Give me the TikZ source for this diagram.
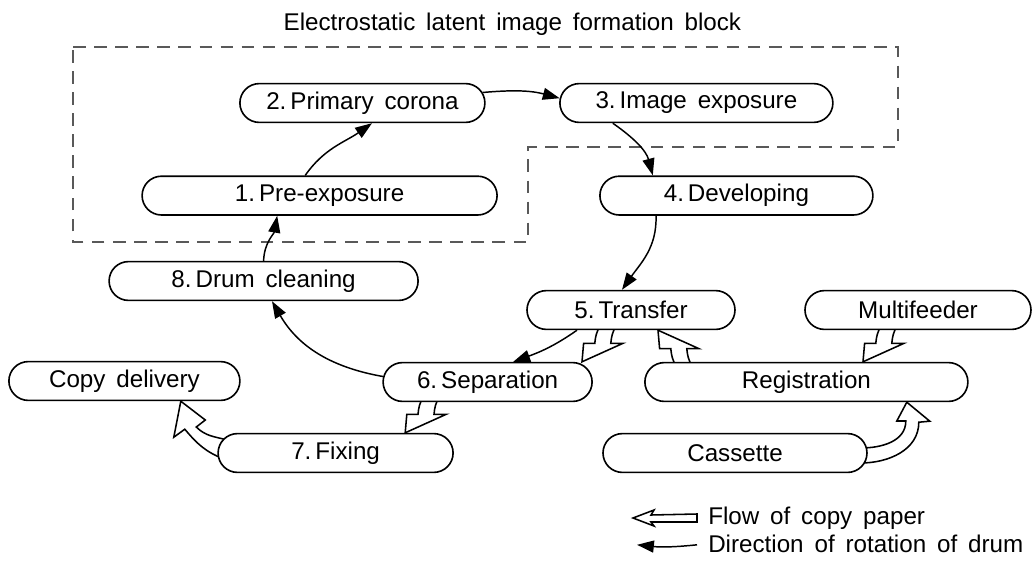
\documentclass[tikz,border=0pt]{standalone}
\usepackage{fontspec}
\setmainfont{Liberation Sans}
\usepackage{tikz}
\usetikzlibrary{shapes.misc}
\usetikzlibrary{arrows.meta}
\usetikzlibrary{backgrounds}

\newcommand\stagefont{\fontsize{17.2}{20}\selectfont\spaceskip=0.45em\relax}

\tikzset{
  pics/zigzag/.style={code={
    \draw[paper] (0,0) -- (0.04,0.46) -- (0.32,0.46) to[bend left=12] (0.45,0.9)
      -- (0.85,0.9) to[bend right=12] (0.72,0.46) -- (1.02,0.46) -- cycle;
  }}
}

\begin{document}
\begin{tikzpicture}[
    stage/.style={draw, line width=1.15pt, fill=white, rounded rectangle, minimum height=0.97cm, inner sep=0pt, font=\stagefont},
    drum/.style={line width=1.05pt, -{Triangle[length=12pt,width=8.5pt]}},
    paper/.style={draw, line width=1.1pt, fill=white, line join=miter},
    legendtxt/.style={anchor=base west, inner sep=0pt, font=\stagefont}
  ]
                \useasboundingbox (0,0) rectangle (25.825,-14.025);

                % Latent image block
                \draw[gray!70!black, dash pattern=on 9pt off 6pt, line width=0.8pt]
                  (1.825,-1.175) -- (22.45,-1.175) -- (22.45,-3.675) -- (13.2,-3.675)
                  -- (13.2,-6.05) -- (1.825,-6.05) -- cycle;
                \node (blk) [font=\stagefont] at (12.81,-0.6) {Electrostatic latent image formation block};

                % Drum stages
                \node (pre) [stage, minimum width=8.875cm] at (7.99,-4.89) {1.\,Pre-exposure};
                \node (pc) [stage, minimum width=6.125cm] at (9.06,-2.575) {2.\,Primary corona};
                \node (ie) [stage, minimum width=6.825cm] at (17.41,-2.575) {3.\,Image exposure};
                \node (dev) [stage, minimum width=6.825cm] at (18.41,-4.89) {4.\,Developing};
                \node (tr) [stage, minimum width=5.2cm] at (15.775,-7.75) {5.\,Transfer};
                \node (sep) [stage, minimum width=5.225cm] at (12.19,-9.55) {6.\,Separation};
                \node (fix) [stage, minimum width=5.875cm] at (8.39,-11.325) {7.\,Fixing};
                \node (dc) [stage, minimum width=7.725cm] at (6.59,-7.025) {8.\,Drum cleaning};

                % Paper path
                \node (cd) [stage, minimum width=5.775cm] at (3.11,-9.525) {Copy delivery};
                \node (mf) [stage, minimum width=5.65cm] at (22.95,-7.75) {Multifeeder};
                \node (reg) [stage, minimum width=8.075cm] at (20.16,-9.55) {Registration};
                \node (cas) [stage, minimum width=6.6cm] at (18.375,-11.325) {Cassette};

                % Rotation of drum
                \draw[drum] (dc.north) to[out=88,in=-100] ([xshift=-1.06cm]pre.south);
                \draw[drum] ([xshift=-0.36cm]pre.north) to[out=55,in=-145] ([xshift=0.24cm]pc.south);
                \draw[drum] (pc.5) to[out=5,in=165] (ie.178);
                \draw[drum] ([xshift=-2.09cm]ie.south) to[out=-35,in=105] ([xshift=-2.09cm]dev.north);
                \draw[drum] ([xshift=-2.01cm]dev.south) to[out=-88,in=55] ([xshift=-0.225cm]tr.north);
                \draw[drum] ([xshift=-1.35cm]tr.south) to[out=-145,in=20] ([xshift=0.64cm]sep.north);
                \draw[drum] (sep.177) to[out=170,in=-60] ([xshift=0.21cm]dc.south);

                % Flow of copy paper
                \begin{pgfonlayer}{background}
                \pic at ([xshift=-1.225cm]tr.south |- sep.north) {zigzag};
                \pic at ([xshift=-2.06cm]sep.south |- fix.north) {zigzag};
                \pic at ([xshift=-1.375cm]mf.south |- reg.north) {zigzag};
                \pic[yscale=-1] at ([xshift=0.675cm]tr.south) {zigzag};
                \draw[paper] ([xshift=0.25cm,yshift=0.325cm]fix.west) to[out=165,in=-45] ++(-0.775,0.325)
                  -- ++(0.225,0.175) -- ([xshift=1.41cm]cd.south) -- ++(-0.175,-0.9) -- ++(0.275,0.2)
                  to[out=-50,in=160] ([xshift=0.175cm,yshift=-0.15cm]fix.west) -- cycle;
                \draw[paper] ([xshift=-0.175cm,yshift=0.125cm]cas.east) to[out=0,in=-90] ++(1.125,0.675)
                  -- ++(-0.225,0) -- ([xshift=2.51cm]reg.south) -- ++(0.575,-0.475) -- ++(-0.275,-0.025)
                  to[out=-90,in=0] ([xshift=-0.175cm,yshift=-0.25cm]cas.east) -- cycle;
                \end{pgfonlayer}

                % Legend
                \draw[paper] (15.825,-12.95) -- (16.35,-12.75) -- (16.275,-12.875) -- (17.425,-12.85)
                  -- (17.425,-13.05) -- (16.275,-13.05) -- (16.35,-13.15) -- cycle;
                \node (flow) [legendtxt] at (17.7,-13.1) {Flow of copy paper};
                \draw[drum] (17.425,-13.62) to[bend left=6] (15.925,-13.62);
                \node (rot) [legendtxt] at (17.7,-13.8) {Direction of rotation of drum};
\end{tikzpicture}
\end{document}
